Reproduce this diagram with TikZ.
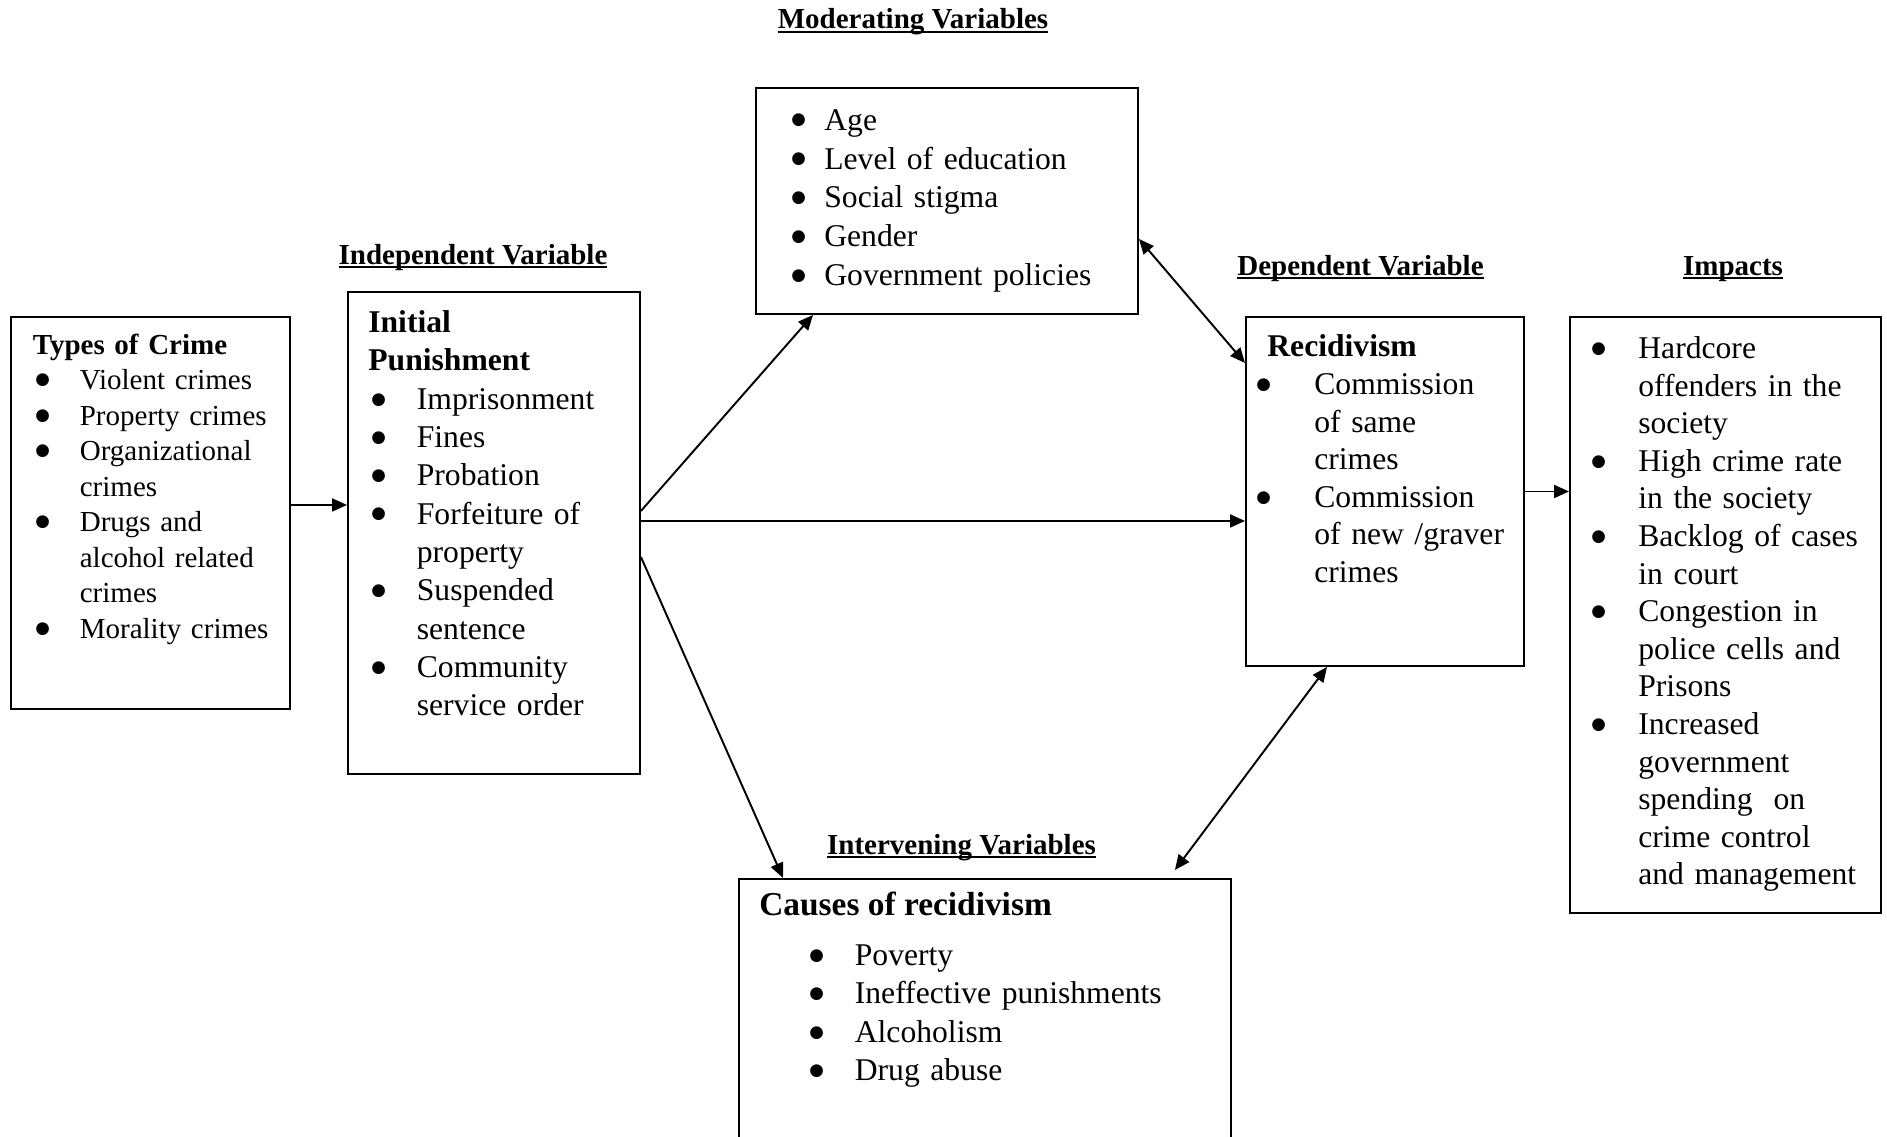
\documentclass[tikz,border=0pt]{standalone}
\usepackage{fontspec}
\setmainfont{Liberation Serif}
\newfontfamily\dotfont{DejaVu Sans}
\usetikzlibrary{arrows.meta,positioning}

\newlength\ttlx
\newlength\bulx
\newlength\txtx
\newsavebox\hdrbox
\newcommand{\boxtitle}[1]{\par\noindent\hangindent=\ttlx\hangafter=0 \strut\textbf{#1}\par}
\newcommand{\bigbullet}{\raisebox{3pt}{\dotfont\fontsize{9.5}{9.5}\selectfont ●}}
\newcommand{\bul}[1]{\par\noindent\hangindent=\txtx\hangafter=1 \makebox[\txtx][l]{\hspace*{\bulx}\bigbullet}\strut#1\par}
\newcommand{\vartitle}[1]{\sbox\hdrbox{\bfseries#1}\rlap{\rule[-2.4pt]{\wd\hdrbox}{1pt}}\usebox\hdrbox}

\begin{document}
\begin{tikzpicture}[
  >={Triangle[length=0.3cm,width=0.26cm]},
  box/.style={draw, line width=1.1pt, anchor=north west, inner sep=0pt},
  lst/.style={anchor=north west, inner sep=0pt, align=left, text width=#1},
  hdr/.style={font=\fontsize{16.5}{20}\selectfont, anchor=base, inner sep=0pt},
  arr/.style={->, line width=1.1pt},
  both/.style={<->, line width=1.1pt}
]
\useasboundingbox (0,0) rectangle (37.74,-22.72);
\clip (0,0) rectangle (37.74,-22.72);

% --- boxes ---
\node[box, minimum width=5.58cm, minimum height=7.84cm] (crime) at (0.2,-6.32) {};
\node[box, minimum width=5.84cm, minimum height=9.64cm] (punish) at (6.94,-5.82) {};
\node[box, minimum width=7.64cm, minimum height=4.52cm] (moder) at (15.1,-1.74) {};
\node[box, minimum width=5.56cm, minimum height=6.98cm] (recid) at (24.9,-6.32) {};
\node[box, minimum width=6.22cm, minimum height=11.92cm] (impact) at (31.38,-6.32) {};
\node[box, minimum width=9.84cm, minimum height=6cm] (causes) at (14.76,-17.56) {};

% --- headings ---
\node[hdr] (modhdr) at (18.26,-0.58) {\vartitle{Moderating Variables}};
\node[hdr] (indhdr) at (9.46,-5.28) {\vartitle{Independent Variable}};
\node[hdr] (dephdr) at (27.21,-5.5) {\vartitle{Dependent Variable}};
\node[hdr] (imphdr) at (34.66,-5.5) {\vartitle{Impacts}};
\node[hdr] (inthdr) at (19.23,-17.08) {\vartitle{Intervening Variables}};

% --- box texts ---
\node[lst=6.5cm, font=\fontsize{16.5}{20.2}\selectfont] (crimetxt)
  at ([yshift=-0.05cm]crime.north west) {%
  \setlength\ttlx{0.45cm}\setlength\bulx{0.5cm}\setlength\txtx{1.39cm}%
  \boxtitle{Types of Crime}
  \bul{Violent crimes}
  \bul{Property crimes}
  \bul{Organizational\newline crimes}
  \bul{Drugs and\newline alcohol related\newline crimes}
  \bul{Morality crimes}};

\node[lst=6.8cm, font=\fontsize{18}{21.8}\selectfont] (punishtxt)
  at ([yshift=-0.06cm]punish.north west) {%
  \setlength\ttlx{0.42cm}\setlength\bulx{0.48cm}\setlength\txtx{1.39cm}%
  \boxtitle{Initial\newline Punishment}
  \bul{Imprisonment}
  \bul{Fines}
  \bul{Probation}
  \bul{Forfeiture of\newline property}
  \bul{Suspended\newline sentence}
  \bul{Community\newline service order}};

\node[lst=8.6cm, font=\fontsize{18}{22.1}\selectfont] (modertxt)
  at ([yshift=-0.08cm]moder.north west) {%
  \setlength\bulx{0.72cm}\setlength\txtx{1.38cm}%
  \bul{Age}
  \bul{Level of education}
  \bul{Social stigma}
  \bul{Gender}
  \bul{Government policies}};

\node[lst=6.5cm, font=\fontsize{18}{21.4}\selectfont] (recidtxt)
  at ([yshift=-0.06cm]recid.north west) {%
  \setlength\ttlx{0.44cm}\setlength\bulx{0.22cm}\setlength\txtx{1.38cm}%
  \boxtitle{Recidivism}
  \bul{Commission\newline of same\newline crimes}
  \bul{Commission\newline of new /graver\newline crimes}};

\node[lst=7cm, font=\fontsize{18}{21.4}\selectfont] (impacttxt)
  at ([yshift=-0.09cm]impact.north west) {%
  \setlength\bulx{0.44cm}\setlength\txtx{1.38cm}%
  \bul{Hardcore\newline offenders in the\newline society}
  \bul{High crime rate\newline in the society}
  \bul{Backlog of cases\newline in court}
  \bul{Congestion in\newline police cells and\newline Prisons}
  \bul{Increased\newline government\newline spending\ \ on\newline crime control\newline and management}};

\node[anchor=base west, inner sep=0pt, font=\fontsize{19}{23}\selectfont\bfseries] (causesttl)
  at ([shift={(0.42cm,-0.74cm)}]causes.north west) {Causes of recidivism};
\node[lst=9.5cm, font=\fontsize{18}{21.9}\selectfont] (causestxt)
  at ([yshift=-0.97cm]causes.north west) {%
  \setlength\bulx{1.42cm}\setlength\txtx{2.33cm}%
  \bul{Poverty}
  \bul{Ineffective punishments}
  \bul{Alcoholism}
  \bul{Drug abuse}};

% --- connectors ---
\draw[arr] ([yshift=0.16cm]crime.east) -- ([yshift=0.16cm]crime.east -| punish.west);
\draw[arr] ([yshift=0.44cm]punish.east) -- ([xshift=1.16cm]moder.south west);
\draw[arr] ([yshift=0.24cm]punish.east) -- ([yshift=0.24cm]punish.east -| recid.west);
\draw[arr] ([yshift=-0.48cm]punish.east) -- ([xshift=0.9cm]causes.north west);
\draw[both] ([yshift=-0.76cm]moder.east) -- ([yshift=-0.94cm]recid.north west);
\draw[both] ([xshift=1.64cm]recid.south west) -- ([shift={(-1.14cm,0.16cm)}]causes.north east);
\draw[arr] (recid.east) -- (recid.east -| impact.west);

\end{tikzpicture}
\end{document}
